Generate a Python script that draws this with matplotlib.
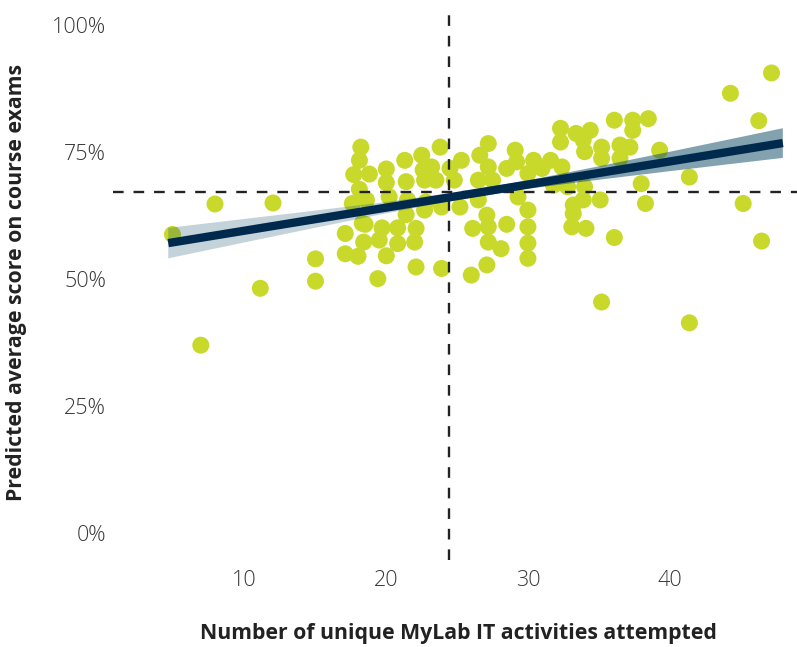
import numpy as np
import matplotlib
matplotlib.use("Agg")
import matplotlib.pyplot as plt
from matplotlib.patches import Polygon
from matplotlib.ticker import FuncFormatter

# ---- data ----
activities = [4.9, 7.9, 12.0, 6.9, 11.1, 15.0, 15.0, 17.1, 17.1, 18.0, 18.3, 18.4, 17.6, 18.1,
              17.7, 18.1, 18.2, 18.8, 18.6, 18.5, 19.4, 20.0, 20.0, 20.2, 19.7, 20.0, 19.5,
              20.8, 20.8, 21.3, 21.4, 21.5, 21.4, 22.0, 22.1, 22.1, 22.5, 22.6, 22.7, 22.8,
              22.7, 23.2, 23.5, 23.8, 23.9, 23.9, 24.5, 24.8, 25.3, 25.2, 26.0, 26.1, 26.5,
              26.5, 26.6, 27.2, 27.2, 27.1, 27.2, 27.2, 27.1, 27.5, 28.1, 28.5, 28.5, 29.1,
              29.3, 29.2, 30.0, 30.0, 30.0, 30.0, 30.0, 30.4, 31.0, 31.6, 31.8, 32.4, 32.3,
              32.3, 33.2, 33.1, 33.4, 34.4, 33.9, 34.0, 35.2, 35.2, 36.1, 37.4, 37.4, 38.5,
              36.5, 37.2, 36.5, 39.3, 32.8, 34.0, 33.9, 35.1, 33.2, 34.1, 36.1, 38.0, 38.3,
              41.4, 35.2, 41.4, 44.3, 47.2, 46.3, 45.2, 46.5]
scores = [58.8, 64.8, 65.0, 37.0, 48.2, 54.0, 49.6, 59.0, 55.0, 54.5, 61.0, 57.3, 64.9, 67.7,
          70.6, 73.4, 76.0, 70.7, 65.6, 60.8, 50.1, 71.7, 69.0, 66.2, 60.1, 54.6, 57.7,
          60.1, 57.0, 73.4, 69.2, 65.6, 62.7, 57.3, 60.0, 52.4, 74.4, 71.5, 69.5, 65.2,
          63.6, 72.1, 69.5, 76.0, 64.2, 52.1, 71.8, 69.5, 73.4, 64.2, 50.8, 60.0, 65.6,
          69.5, 74.4, 76.7, 72.1, 62.6, 60.3, 57.3, 52.8, 69.5, 56.0, 60.8, 71.8, 75.4,
          66.2, 73.1, 63.6, 60.3, 57.1, 54.1, 70.8, 73.4, 71.8, 73.4, 68.5, 72.1, 79.7,
          77.0, 62.9, 60.3, 78.7, 79.3, 77.4, 75.1, 76.0, 73.8, 81.3, 81.3, 79.3, 81.6,
          76.4, 76.0, 73.8, 75.4, 68.2, 68.2, 65.6, 65.6, 64.6, 60.0, 58.2, 68.8, 64.9,
          70.1, 45.5, 41.4, 86.6, 90.6, 81.2, 64.9, 57.5]

fit_x = [4.6, 48.0]           # regression line ends
fit_y = [57.1, 76.8]          # predicted score (%) at those ends
band_x = [4.6, 10, 15, 20, 25, 30, 35, 40, 44, 48]
band_half = [3.0, 2.31, 1.69, 1.12, 0.73, 0.83, 1.32, 1.91, 2.41, 2.92]

mean_activities = 24.4
mean_score = 67.1

x_ticks = [10, 20, 30, 40]
y_ticks = [0, 25, 50, 75, 100]
x_label = "Number of unique MyLab IT activities attempted"
y_label = "Predicted average score on course exams"

# ---- styling ----
W, H, DPI = 797, 647, 100
point_color = "#c8d92c"
line_color = "#002a4d"
dash_color = "#222222"
tick_color = "#383838"
label_color = "#222222"
font = ["Open Sans", "DejaVu Sans"]

fig = plt.figure(figsize=(W / DPI, H / DPI), dpi=DPI)
ax = fig.add_axes([113 / W, 1 - 560 / H, (W - 113) / W, 550 / H])
ax.set_xlim(0.7, 49.0)
ax.set_ylim(-5.3, 103.0)
for s in ax.spines.values():
    s.set_visible(False)

ax.scatter(activities, scores, s=150, color=point_color, edgecolors="none", zorder=2)

ax.axvline(mean_activities, color=dash_color, lw=1.7, dashes=(4.5, 4.2), zorder=2.5)
ax.axhline(mean_score, color=dash_color, lw=1.7, dashes=(4.5, 4.2), zorder=2.5)

# confidence band with a horizontal colour/alpha gradient
bx = np.linspace(band_x[0], band_x[-1], 300)
center = np.interp(bx, fit_x, fit_y)
half = np.interp(bx, band_x, band_half)
verts = np.concatenate([np.column_stack([bx, center + half]),
                        np.column_stack([bx[::-1], (center - half)[::-1]])])
poly = Polygon(verts, closed=True, facecolor="none", edgecolor="none")
ax.add_patch(poly)
gx = np.linspace(band_x[0], band_x[-1], 400)
t = np.clip((gx - 18) / (32 - 18), 0, 1)
t = t * t * (3 - 2 * t)
rgba = np.zeros((1, len(gx), 4))
base = np.array([20, 80, 105]) / 255.0
rgba[0, :, :3] = base
rgba[0, :, 3] = 0.25 + 0.28 * t
ymin_b = float(np.min(center - half)) - 1
ymax_b = float(np.max(center + half)) + 1
im = ax.imshow(rgba, extent=(band_x[0], band_x[-1], ymin_b, ymax_b), aspect="auto",
               interpolation="bilinear", zorder=3, origin="lower")
im.set_clip_path(poly)

ax.plot(fit_x, fit_y, color=line_color, lw=6.0, solid_capstyle="butt", zorder=4)

ax.set_xticks(x_ticks)
ax.set_yticks(y_ticks)
ax.yaxis.set_major_formatter(FuncFormatter(lambda v, p: f"{int(v)}%"))
ax.tick_params(length=0, labelsize=15.5, colors=tick_color)
ax.tick_params(axis="x", pad=7)
ax.tick_params(axis="y", pad=5)
for lab in ax.get_xticklabels() + ax.get_yticklabels():
    lab.set_family(font)
    lab.set_fontweight(300)

fig.text(458 / W, 1 - 634 / H, x_label, ha="center", va="center", fontsize=15.3,
         fontweight="bold", color=label_color, family=font)
fig.text(17 / W, 1 - 283 / H, y_label, ha="center", va="center", rotation=90,
         fontsize=15.3, fontweight="bold", color=label_color, family=font)

fig.savefig("out.png", dpi=DPI)
